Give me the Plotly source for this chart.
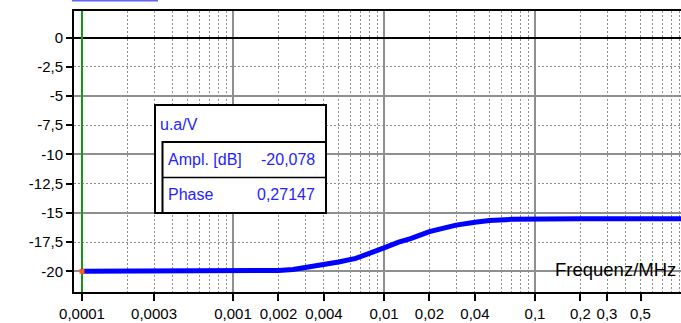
import plotly.graph_objects as go

# ---- data ----
freq_mhz = [0.0001, 0.0003, 0.001, 0.0015, 0.002, 0.0025, 0.003, 0.004, 0.005, 0.0065,
            0.008, 0.01, 0.0125, 0.015, 0.02, 0.025, 0.03, 0.04, 0.05, 0.07, 0.1, 0.2, 0.5, 1.0]
ampl_db = [-20.0, -20.0, -20.0, -19.98, -19.93, -19.85, -19.7, -19.45, -19.2, -18.9,
           -18.5, -18.0, -17.5, -17.2, -16.6, -16.3, -16.05, -15.8, -15.65, -15.55, -15.52, -15.5, -15.5, -15.5]

x_tick_vals = [0.0001, 0.0003, 0.001, 0.002, 0.004, 0.01, 0.02, 0.04, 0.1, 0.2, 0.3, 0.5]
x_tick_text = ["0,0001", "0,0003", "0,001", "0,002", "0,004", "0,01", "0,02", "0,04", "0,1", "0,2", "0,3", "0,5"]
y_tick_vals = [0, -2.5, -5, -7.5, -10, -12.5, -15, -17.5, -20]
y_tick_text = ["0", "-2,5", "-5", "-7,5", "-10", "-12,5", "-15", "-17,5", "-20"]

x_major_grid = [0.0001, 0.001, 0.01, 0.1]
x_minor_grid = [m * d for d in x_major_grid for m in range(2, 10)]
y_major_grid = [-20, -15, -10, -5]
y_minor_grid = [-17.5, -12.5, -7.5, -2.5]

cursor_freq = 0.0001
cursor_ampl = -20.0
readout_title = "u.a/V"
readout_labels = ["Ampl. [dB]", "Phase"]
readout_values = ["-20,078", "0,27147"]
x_title = "Frequenz/MHz"

x_range = [-4.053, -0.033]
y_range = [-21.77, 2.27]

tick_font = dict(family="Liberation Sans Narrow, Arial Narrow, Liberation Sans, Arial", size=15, color="black")
blue_txt = "#2424ff"
grid_col = "#8f8f8f"

fig = go.Figure()

# cursor line
fig.add_trace(go.Scatter(x=[cursor_freq, cursor_freq], y=[y_range[0] - 5, y_range[1] + 5],
                         mode="lines", line=dict(color="#129a12", width=2),
                         hoverinfo="skip", showlegend=False))
# curve
fig.add_trace(go.Scatter(x=freq_mhz, y=ampl_db, mode="lines",
                         line=dict(color="#0000ff", width=5), showlegend=False))
# cursor marker
fig.add_trace(go.Scatter(x=[cursor_freq], y=[cursor_ampl], mode="markers",
                         marker=dict(color="#ff5a1e", size=5, symbol="square"),
                         showlegend=False, cliponaxis=False))
# dummy trace for label axes
fig.add_trace(go.Scatter(x=[], y=[], xaxis="x2", yaxis="y2", showlegend=False))

fig.update_layout(
    width=681, height=323,
    margin=dict(l=74, r=0, t=11, b=31, autoexpand=False),
    paper_bgcolor="white", plot_bgcolor="white",
    xaxis=dict(type="log", range=x_range, tickmode="array", tickvals=x_major_grid, automargin=False,
               showticklabels=False, ticks="", showgrid=True, gridcolor=grid_col, gridwidth=2,
               minor=dict(tickmode="array", tickvals=x_minor_grid, showgrid=True,
                          gridcolor=grid_col, gridwidth=1, griddash="2px,2px", ticks=""),
               showline=True, mirror=True, linecolor="black", linewidth=2, zeroline=False),
    xaxis2=dict(type="log", range=x_range, overlaying="x", side="bottom", anchor="y", automargin=False,
                tickmode="array", tickvals=x_tick_vals, ticktext=x_tick_text,
                ticks="outside", ticklen=8, tickwidth=1.5, tickcolor="black",
                tickfont=tick_font, showgrid=False, showline=False, zeroline=False),
    yaxis=dict(range=y_range, tickmode="array", tickvals=y_major_grid, showticklabels=False, automargin=False,
               ticks="", showgrid=True, gridcolor=grid_col, gridwidth=2,
               minor=dict(tickmode="array", tickvals=y_minor_grid, showgrid=True,
                          gridcolor=grid_col, gridwidth=1, griddash="2px,2px", ticks=""),
               zeroline=True, zerolinecolor="black", zerolinewidth=2,
               showline=True, linecolor="black", linewidth=2, mirror=False),
    yaxis2=dict(range=y_range, overlaying="y", side="left", anchor="x", automargin=False,
                tickmode="array", tickvals=y_tick_vals, ticktext=y_tick_text,
                ticks="outside", ticklen=7, tickwidth=1.5, tickcolor="black",
                tickfont=tick_font, showgrid=False, zeroline=False, showline=False),
    showlegend=False,
)

W, H, L, T, B = 681, 323, 74, 11, 31
pw, ph = W - L, H - T - B
def px(xp):
    return (xp - L) / pw
def py(yp):
    return (H - B - yp) / ph

# readout box
fig.add_shape(type="rect", xref="paper", yref="paper", x0=px(155), x1=px(326), y0=py(213), y1=py(105),
              line=dict(color="black", width=2), fillcolor="white", layer="above")
fig.add_shape(type="rect", xref="paper", yref="paper", x0=px(162.5), x1=px(326), y0=py(213), y1=py(142),
              line=dict(color="black", width=2), fillcolor="white", layer="above")
fig.add_shape(type="line", xref="paper", yref="paper", x0=px(162.5), x1=px(326), y0=py(177.5), y1=py(177.5),
              line=dict(color="black", width=1.5), layer="above")
# top blue bar
fig.add_shape(type="rect", xref="paper", yref="paper", x0=px(72), x1=px(158), y0=py(1.5), y1=py(0),
              line=dict(width=0), fillcolor="#6464ff", layer="above")

lab_font = dict(family="Liberation Sans, Arial", size=16, color=blue_txt)
fig.add_annotation(xref="paper", yref="paper", x=px(158), y=py(124), text=readout_title,
                   showarrow=False, xanchor="left", yanchor="middle", font=lab_font)
for lab, val, yc in zip(readout_labels, readout_values, [159, 194]):
    fig.add_annotation(xref="paper", yref="paper", x=px(165.5), y=py(yc), text=lab,
                       showarrow=False, xanchor="left", yanchor="middle", font=lab_font)
    fig.add_annotation(xref="paper", yref="paper", x=px(317), y=py(yc), text=val,
                       showarrow=False, xanchor="right", yanchor="middle", font=lab_font)

fig.add_annotation(xref="paper", yref="paper", x=px(678), y=py(269), text=x_title,
                   showarrow=False, xanchor="right", yanchor="middle",
                   font=dict(family="Liberation Sans, Arial", size=18.5, color="black"))

fig.write_html("out.html", config={"displayModeBar": False},
               post_script="document.body.style.margin='0';document.body.style.overflow='hidden';")
